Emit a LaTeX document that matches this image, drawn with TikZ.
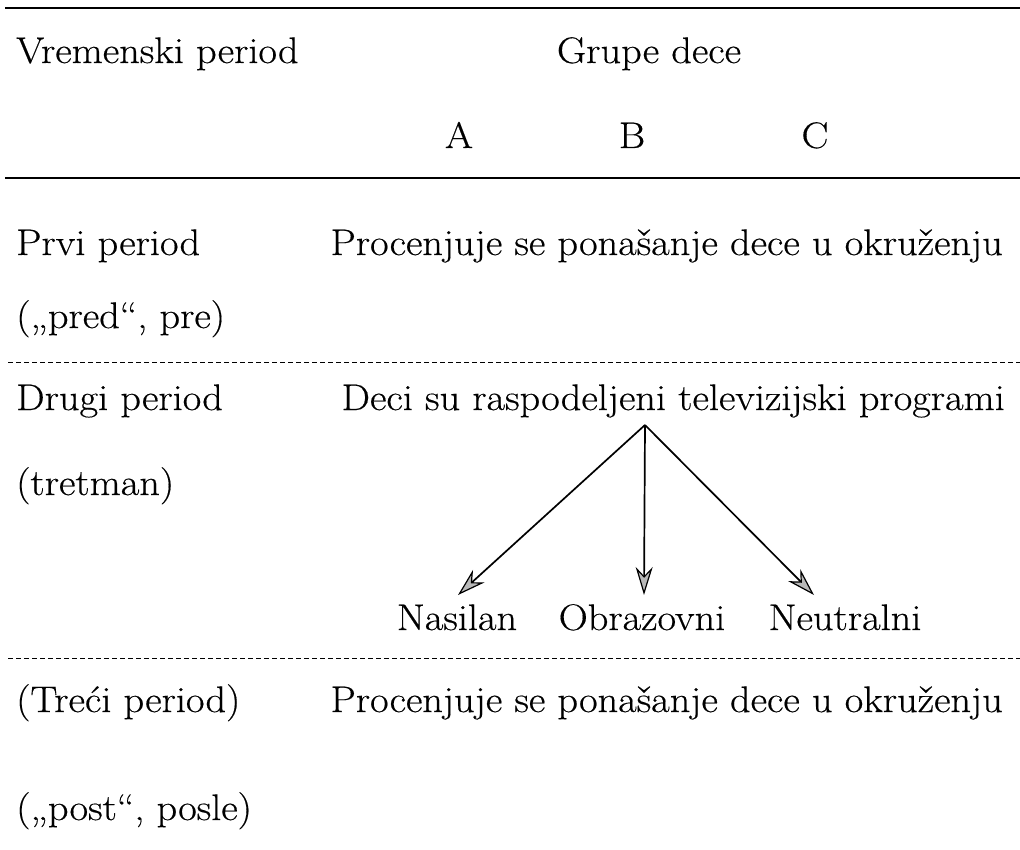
\documentclass[tikz,border=0pt]{standalone}
\usepackage{fontspec}
\setmainfont{Latin Modern Roman}[FakeStretch=1.09,FakeBold=0.4]
\usetikzlibrary{arrows.meta}
\begin{document}
\begin{tikzpicture}[x=1pt,y=-1pt,
  txt/.style={inner sep=0pt,font=\fontsize{37}{42}\selectfont},
  rule/.style={line width=2pt},
  drule/.style={line width=0.9pt,dash pattern=on 5pt off 3pt},
  arr/.style={line width=1.7pt,-{Stealth[length=28pt,width=17pt,inset=9pt,fill=gray!55,line width=1.2pt]}}]
\useasboundingbox (0,0) rectangle (1020,850);
% rules
\coordinate (t1l) at (5,8); \coordinate (t1r) at (1020,8);
\coordinate (t2l) at (5,178); \coordinate (t2r) at (1020,178);
\coordinate (d1l) at (8,362); \coordinate (d1r) at (1020,362);
\coordinate (d2l) at (8,658); \coordinate (d2r) at (1020,658);
\draw[rule] (t1l) -- (t1r);
\draw[rule] (t2l) -- (t2r);
\draw[drule] (d1l) -- (d1r);
\draw[drule] (d2l) -- (d2r);
% header
\node[txt,anchor=base west] (vp) at (16,63) {Vremenski period};
\node[txt,anchor=base] (gd) at (649,63) {Grupe dece};
\node[txt,anchor=base] (ga) at (459,148) {A};
\node[txt,anchor=base] (gb) at (632,148) {B};
\node[txt,anchor=base] (gc) at (815,148) {C};
% row 1
\node[txt,anchor=base west] (p1) at (16,255) {Prvi period};
\node[txt,anchor=base west] (p1b) at (16,328) {(„pred“, pre)};
\node[txt,anchor=base east] (r1) at (1003,255) {Procenjuje se ponašanje dece u okruženju};
% row 2
\node[txt,anchor=base west] (p2) at (16,410) {Drugi period};
\node[txt,anchor=base west] (p2b) at (16,495) {(tretman)};
\node[txt,anchor=base east] (r2) at (1005,410) {Deci su raspodeljeni televizijski programi};
\coordinate (apex) at (645,425);
\node[txt,anchor=base] (n1) at (457,630) {Nasilan};
\node[txt,anchor=base] (n2) at (642,630) {Obrazovni};
\node[txt,anchor=base] (n3) at (845,630) {Neutralni};
\coordinate (tip1) at (458,595);
\coordinate (tip2) at (644,595);
\coordinate (tip3) at (814,595);
\draw[arr] (apex) -- (tip1);
\draw[arr] (apex) -- (tip2);
\draw[arr] (apex) -- (tip3);
% row 3
\node[txt,anchor=base west] (p3) at (16,712) {(Treći period)};
\node[txt,anchor=base west] (p3b) at (16,820) {(„post“, posle)};
\node[txt,anchor=base east] (r3) at (1003,712) {Procenjuje se ponašanje dece u okruženju};
\end{tikzpicture}
\end{document}
